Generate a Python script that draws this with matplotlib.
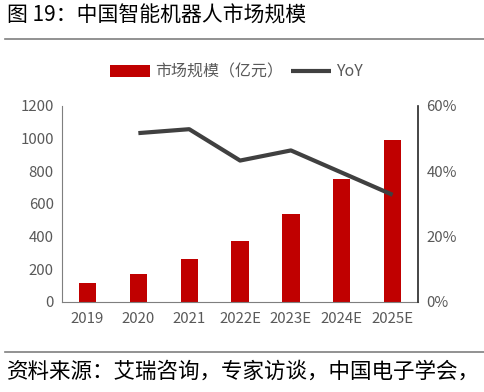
import matplotlib
matplotlib.use("Agg")
import matplotlib.pyplot as plt
import numpy as np

plt.rcParams['font.family'] = ['Noto Sans CJK SC', 'DejaVu Sans']

years = ["2019", "2020", "2021", "2022E", "2023E", "2024E", "2025E"]
market = [114, 171, 261, 371, 541, 751, 992]
yoy = [np.nan, 51.7, 52.9, 43.3, 46.4, 39.6, 32.8]

gray = "#595959"

fig = plt.figure(figsize=(4.85, 3.92), dpi=100)
ax = fig.add_axes([0.128, 0.2296, 0.734, 0.5])

x = np.arange(len(years))
ax.bar(x, market, width=0.34, color="#C00000", label="市场规模（亿元）", zorder=2)
ax.set_ylim(0, 1200)
ax.set_yticks(np.arange(0, 1201, 200))
ax.set_xlim(-0.5, len(years) - 0.5)
ax.set_xticks(x)
ax.set_xticklabels(years)
ax.tick_params(length=0, labelsize=10.8, colors=gray, pad=7)
ax.tick_params(axis='y', pad=6)

ax2 = ax.twinx()
ax2.plot(x, yoy, color="#404040", lw=3.0, label="YoY", zorder=3, solid_capstyle="butt")
ax2.set_ylim(0, 60)
ax2.set_yticks(np.arange(0, 61, 20))
ax2.set_yticklabels([f"{v}%" for v in range(0, 61, 20)])
ax2.tick_params(length=0, labelsize=10.8, colors=gray, pad=6)

for a in (ax, ax2):
    a.spines['top'].set_visible(False)
ax.spines['left'].set_color("#7f7f7f")
ax.spines['bottom'].set_color("#7f7f7f")
ax.spines['right'].set_visible(False)
ax2.spines['left'].set_visible(False)
ax2.spines['bottom'].set_visible(False)
ax2.spines['right'].set_color("#262626")
ax2.spines['right'].set_linewidth(1.2)

h1, l1 = ax.get_legend_handles_labels()
h2, l2 = ax2.get_legend_handles_labels()
fig.legend(h1 + h2, l1 + l2, loc="center", bbox_to_anchor=(0.487, 1 - 72 / 392),
           ncol=2, frameon=False, fontsize=11.5, handlelength=2.5,
           columnspacing=0.5, handletextpad=0.3, labelcolor=gray)

fig.text(0.015, 1 - 16 / 392, "图 19：中国智能机器人市场规模", fontsize=15,
         va="center", ha="left", color="black")
fig.add_artist(plt.Line2D([0.01, 1], [1 - 39 / 392] * 2, color="#7f7f7f", lw=1.2))
fig.add_artist(plt.Line2D([0.01, 1], [1 - 352 / 392] * 2, color="#7f7f7f", lw=1.2))
fig.text(0.015, 1 - 372 / 392, "资料来源：艾瑞咨询，专家访谈，中国电子学会，", fontsize=15.5,
         va="center", ha="left", color="black")

fig.savefig("out.png", dpi=100)
